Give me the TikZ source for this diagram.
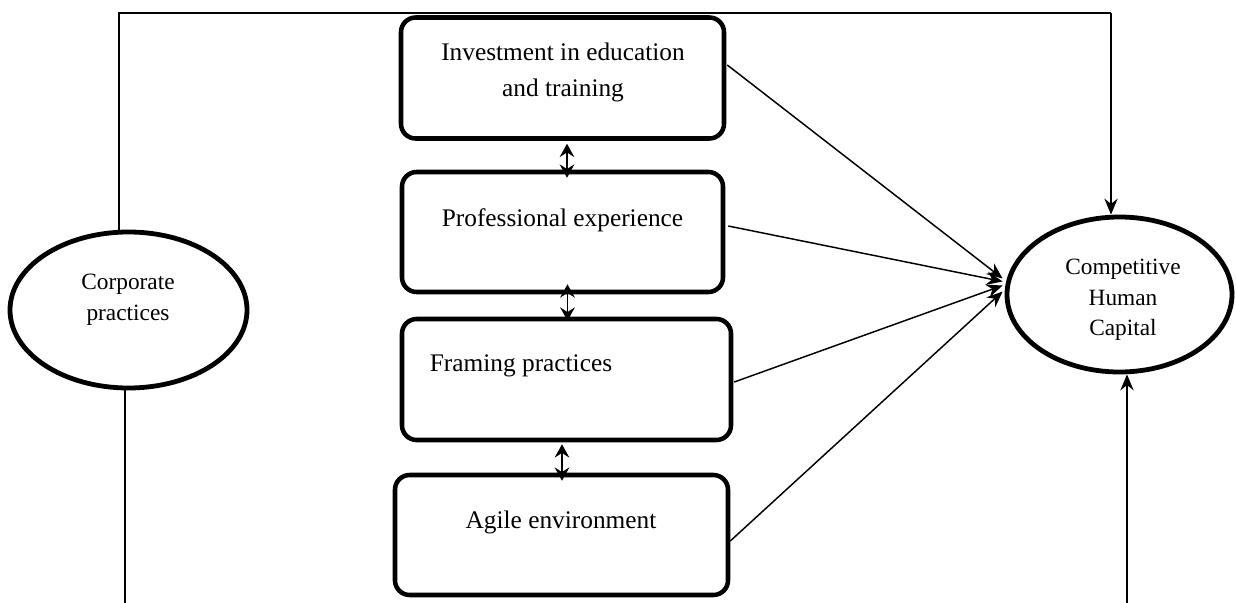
\documentclass[tikz,border=0pt]{standalone}
\usepackage{fontspec}
\setmainfont{Liberation Serif}
\usetikzlibrary{arrows.meta,calc,shapes.geometric}
\def\px{0.75pt}
\begin{document}
\begin{tikzpicture}[x=0.75pt,y=-0.75pt,
  stagebox/.style={draw,line width=3.4pt,rounded corners=11pt,inner sep=0pt},
  bubble/.style={draw,ellipse,line width=3.6pt,inner sep=0pt},
  boxtext/.style={align=center,font=\fontsize{19}{27}\selectfont,inner sep=0pt},
  bubbletext/.style={align=center,font=\fontsize{17.5}{23}\selectfont,inner sep=0pt},
  link/.style={line width=1.1pt},
  flow/.style={line width=1.1pt,-{Stealth[length=12pt,width=10pt,inset=4pt]}},
  twoway/.style={line width=1.3pt,{Stealth[length=10pt,width=11pt,inset=3.5pt]}-{Stealth[length=10pt,width=11pt,inset=3.5pt]}}]

\useasboundingbox (0,0) rectangle (1236,603);

% four stages
\node[stagebox,minimum width=323*\px,minimum height=121*\px] (b1) at (562.5,78) {};
\node[stagebox,minimum width=321*\px,minimum height=120*\px] (b2) at (562.5,232) {};
\node[stagebox,minimum width=329*\px,minimum height=121*\px] (b3) at (566.5,379.5) {};
\node[stagebox,minimum width=333*\px,minimum height=120*\px] (b4) at (561.5,535) {};

\node[boxtext] (t1) at (563,72) {Investment in education\\and training};
\node[boxtext] (t2) at (562.5,220) {Professional experience};
\node[boxtext] (t3) at (521,366) {Framing practices};
\node[boxtext] (t4) at (561,522) {Agile environment};

% the two ellipses
\node[bubble,minimum width=237*\px,minimum height=156*\px] (corp) at (128.5,310) {};
\node[bubble,minimum width=225*\px,minimum height=155*\px] (comp) at (1119.5,294.5) {};

\node[bubbletext] (ct) at (128,300) {Corporate\\practices};
\node[bubbletext] (ht) at (1123,300) {Competitive\\Human\\Capital};

% links between neighbouring stages
\draw[twoway] ($(b1.south)+(4.5,3)$) -- ($(b2.north)+(4.5,8)$);
\draw[twoway] ($(b2.south)+(5,-10)$) -- ($(b3.north)+(1,4)$);
\draw[twoway] ($(b3.south)+(-4.5,2)$) -- ($(b4.north)+(0.5,8)$);

% stages towards the outcome
\draw[flow] ($(b1.east)+(1,-13)$) -- ($(comp.west)+(-2,-16)$);
\draw[flow] ($(b2.east)+(3,-6)$) -- ($(comp.west)+(-2,-13)$);
\draw[flow] ($(b3.east)+(1,2.5)$) -- ($(comp.west)+(-2,-9)$);
\draw[flow] ($(b4.east)+(0,6)$) -- ($(comp.west)+(-2,-3)$);

% outer paths
\coordinate (tl) at (119,13);
\coordinate (tr) at (1111,13);
\draw[link] (corp.north -| tl) -- (tl) -- (tr);
\draw[flow] (tr) -- (comp.north -| tr);

\coordinate (bl) at (125,603);
\coordinate (br) at (1127,603);
\draw[link] (corp.south -| bl) -- (bl);
\draw[flow] (br) -- (comp.south -| br);

\end{tikzpicture}
\end{document}
